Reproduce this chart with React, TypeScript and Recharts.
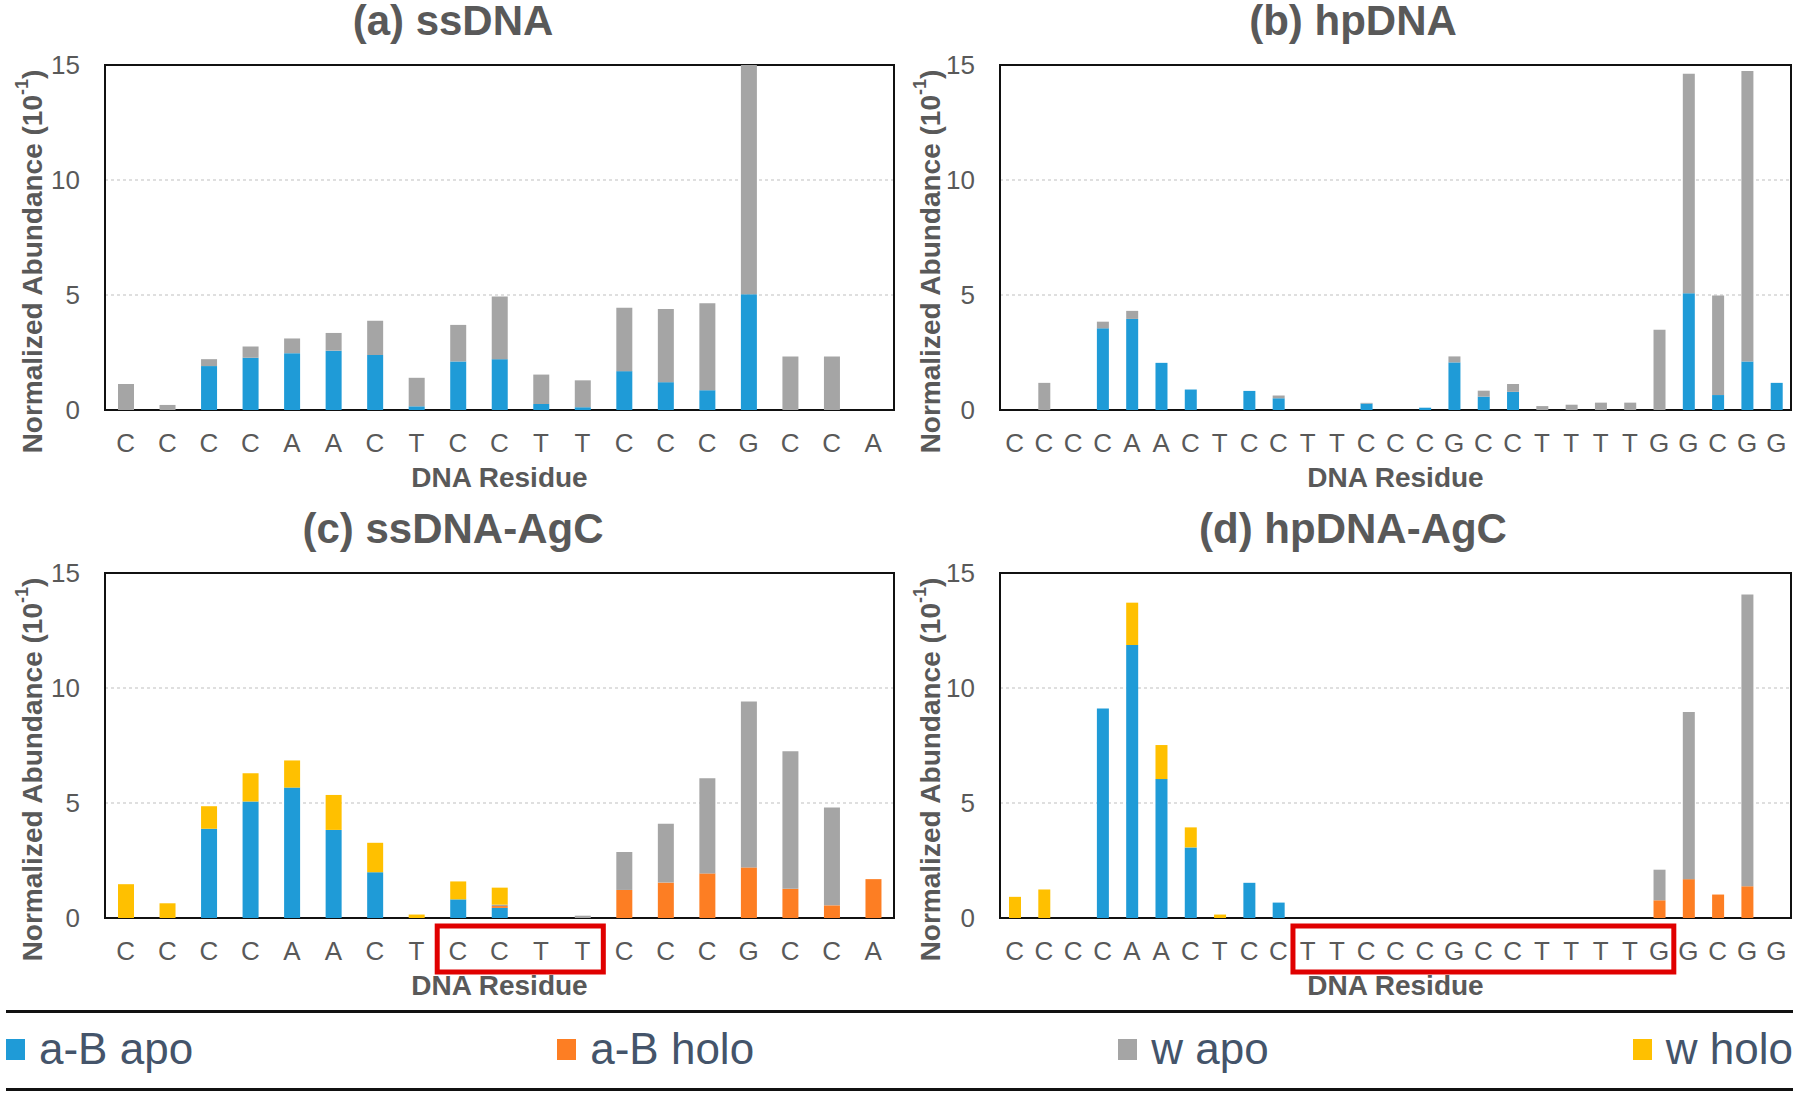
import { BarChart, Bar, XAxis, YAxis, CartesianGrid, ReferenceArea } from "recharts"

const FONT = "'Liberation Sans', Arial, sans-serif"
const TEXT = "#595959"

const ssResidues = ["C", "C", "C", "C", "A", "A", "C", "T", "C", "C", "T", "T", "C", "C", "C", "G", "C", "C", "A"]
const hpResidues = [
  "C", "C", "C", "C", "A", "A", "C", "T", "C", "C", "T", "T", "C", "C",
  "C", "G", "C", "C", "T", "T", "T", "T", "G", "G", "C", "G", "G",
]
const yTicks = [0, 5, 10, 15]

// (a) ssDNA
const ssApo_aB = [0, 0, 1.91, 2.27, 2.47, 2.58, 2.39, 0.16, 2.11, 2.21, 0.26, 0.12, 1.69, 1.21, 0.86, 5.03, 0, 0, 0]
const ssApo_w = [1.13, 0.22, 0.3, 0.49, 0.64, 0.77, 1.49, 1.24, 1.59, 2.72, 1.28, 1.17, 2.76, 3.18, 3.78, 9.97, 2.33, 2.33, 0]

// (b) hpDNA
const hpApo_aB = [0, 0, 0, 3.55, 3.96, 2.05, 0.89, 0, 0.83, 0.51, 0, 0, 0.28, 0, 0.1, 2.07, 0.58, 0.79, 0, 0, 0, 0, 0, 5.08, 0.65, 2.11, 1.18]
const hpApo_w = [0, 1.18, 0, 0.29, 0.35, 0, 0, 0, 0, 0.12, 0, 0, 0.03, 0, 0, 0.26, 0.26, 0.34, 0.17, 0.23, 0.32, 0.32, 3.49, 9.54, 4.33, 12.63, 0]

// (c) ssDNA-AgC
const ssAgc_aBApo = [0, 0, 3.88, 5.06, 5.67, 3.83, 1.99, 0, 0.81, 0.44, 0, 0, 0, 0, 0, 0, 0, 0, 0]
const ssAgc_aBHolo = [0, 0, 0, 0, 0, 0, 0, 0, 0, 0.08, 0, 0, 1.22, 1.54, 1.94, 2.2, 1.27, 0.55, 1.69]
const ssAgc_wApo = [0, 0, 0, 0, 0, 0, 0, 0, 0, 0.06, 0, 0.1, 1.65, 2.56, 4.14, 7.21, 5.98, 4.25, 0]
const ssAgc_wHolo = [1.47, 0.64, 0.98, 1.23, 1.18, 1.52, 1.28, 0.15, 0.78, 0.74, 0, 0, 0, 0, 0, 0, 0, 0, 0]

// (d) hpDNA-AgC
const hpAgc_aBApo = [0, 0, 0, 9.11, 11.87, 6.04, 3.07, 0, 1.53, 0.67, 0, 0, 0, 0, 0, 0, 0, 0, 0, 0, 0, 0, 0, 0, 0, 0, 0]
const hpAgc_aBHolo = [0, 0, 0, 0, 0, 0, 0, 0, 0, 0, 0, 0, 0, 0, 0, 0, 0, 0, 0, 0, 0, 0, 0.77, 1.69, 1.02, 1.38, 0]
const hpAgc_wApo = [0, 0, 0, 0, 0, 0, 0, 0, 0, 0, 0, 0, 0, 0, 0, 0, 0, 0, 0, 0, 0, 0, 1.33, 7.27, 0, 12.69, 0]
const hpAgc_wHolo = [0.92, 1.24, 0, 0, 1.84, 1.48, 0.87, 0.15, 0, 0, 0, 0, 0, 0, 0, 0, 0, 0, 0, 0, 0, 0, 0, 0, 0, 0, 0]

const series = [
  { key: "aBApo", name: "a-B apo", color: "#1f9bd7" },
  { key: "aBHolo", name: "a-B holo", color: "#fd7e23" },
  { key: "wApo", name: "w apo", color: "#a5a5a5" },
  { key: "wHolo", name: "w holo", color: "#ffc000" },
]

function buildRows(residues: string[], aBApo: number[], aBHolo: number[], wApo: number[], wHolo: number[]) {
  return residues.map((r, i) => ({
    id: String(i),
    residue: r,
    aBApo: aBApo[i] ?? 0,
    aBHolo: aBHolo[i] ?? 0,
    wApo: wApo[i] ?? 0,
    wHolo: wHolo[i] ?? 0,
  }))
}

const none = (n: number) => new Array(n).fill(0)

function YTitle(props: any) {
  const { viewBox, gap } = props
  const cx = viewBox.x + viewBox.width - gap
  const cy = viewBox.y + viewBox.height / 2 + 24
  return (
    <text
      x={cx}
      y={cy}
      transform={`rotate(-90 ${cx} ${cy})`}
      textAnchor="middle"
      dominantBaseline="central"
      fill={TEXT}
      fontSize={28}
      fontWeight="bold"
      fontFamily={FONT}
    >
      Normalized Abundance (10
      <tspan dy={-10} fontSize={18}>-1</tspan>
      <tspan dy={10}>)</tspan>
    </text>
  )
}

function XTitle(props: any) {
  const { viewBox } = props
  return (
    <text
      x={viewBox.x + viewBox.width / 2}
      y={viewBox.y + 67}
      textAnchor="middle"
      dominantBaseline="central"
      fill={TEXT}
      fontSize={28}
      fontWeight="bold"
      fontFamily={FONT}
    >
      DNA Residue
    </text>
  )
}

interface PanelProps {
  title: string
  residues: string[]
  rows: any[]
  left: number
  top: number
  side: "left" | "right"
  barSize: number
  box?: [number, number]
}

function Panel({ title, residues, rows, left, top, side, barSize, box }: PanelProps) {
  const margin = side === "left"
    ? { top: 65, right: 6, bottom: 30, left: 45 }
    : { top: 65, right: 9, bottom: 30, left: 40 }
  return (
    <div style={{ position: "absolute", left, top, width: 900, height: 500 }}>
      <div
        style={{
          position: "absolute",
          left: 3,
          top: 0,
          width: 900,
          textAlign: "center",
          fontFamily: FONT,
          fontWeight: "bold",
          fontSize: 42,
          lineHeight: "42px",
          color: TEXT,
        }}
      >
        {title}
      </div>
      <BarChart width={900} height={500} data={rows} margin={margin}>
        <CartesianGrid vertical={false} strokeDasharray="3 3" stroke="#bfbfbf" />
        <XAxis
          dataKey="id"
          interval={0}
          height={60}
          tickLine={false}
          axisLine={false}
          tickSize={6}
          tickMargin={18}
          tickFormatter={(v: string) => residues[Number(v)]}
          tick={{ fill: TEXT, fontSize: 26, fontFamily: FONT }}
          label={<XTitle />}
        />
        <YAxis
          width={60}
          domain={[0, 15]}
          ticks={yTicks}
          tickLine={false}
          axisLine={false}
          tickSize={6}
          tickMargin={19}
          tick={{ fill: TEXT, fontSize: 26, fontFamily: FONT }}
          label={<YTitle gap={side === "left" ? 73 : 70} />}
        />
        {series.map((s) => (
          <Bar
            key={s.key}
            dataKey={s.key}
            name={s.name}
            stackId="stack"
            fill={s.color}
            barSize={barSize}
            isAnimationActive={false}
          />
        ))}
        <ReferenceArea y1={0} y2={15} ifOverflow="visible" fill="none" stroke="#111" strokeWidth={2} />
        {box && (
          <ReferenceArea
            x1={String(box[0])}
            x2={String(box[1])}
            y1={-0.35}
            y2={-2.35}
            ifOverflow="visible"
            fill="none"
            stroke="#e00000"
            strokeWidth={5}
          />
        )}
      </BarChart>
    </div>
  )
}

function LegendBar() {
  return (
    <>
      <div style={{ position: "absolute", left: 6, top: 1010, width: 1787, height: 3, background: "#111" }} />
      <div style={{ position: "absolute", left: 6, top: 1088, width: 1787, height: 3, background: "#111" }} />
      <div
        style={{
          position: "absolute",
          left: 6,
          top: 1024,
          width: 1787,
          height: 50,
          display: "flex",
          justifyContent: "space-between",
          alignItems: "center",
          fontFamily: FONT,
          fontSize: 44,
          color: "#44546a",
        }}
      >
        {series.map((s) => (
          <div key={s.key} style={{ display: "flex", alignItems: "center" }}>
            <span style={{ display: "inline-block", width: 19, height: 21, background: s.color, marginRight: 14 }} />
            <span>{s.name}</span>
          </div>
        ))}
      </div>
    </>
  )
}

export default function App() {
  const ssN = ssResidues.length
  const hpN = hpResidues.length
  const rowsA = buildRows(ssResidues, ssApo_aB, none(ssN), ssApo_w, none(ssN))
  const rowsB = buildRows(hpResidues, hpApo_aB, none(hpN), hpApo_w, none(hpN))
  const rowsC = buildRows(ssResidues, ssAgc_aBApo, ssAgc_aBHolo, ssAgc_wApo, ssAgc_wHolo)
  const rowsD = buildRows(hpResidues, hpAgc_aBApo, hpAgc_aBHolo, hpAgc_wApo, hpAgc_wHolo)
  return (
    <div style={{ position: "absolute", left: 0, top: 0, width: 1800, height: 1098, background: "#fff" }}>
      <Panel title="(a) ssDNA" residues={ssResidues} rows={rowsA} left={0} top={0} side="left" barSize={16} />
      <Panel title="(b) hpDNA" residues={hpResidues} rows={rowsB} left={900} top={0} side="right" barSize={12} />
      <Panel title="(c) ssDNA-AgC" residues={ssResidues} rows={rowsC} left={0} top={508} side="left" barSize={16} box={[8, 11]} />
      <Panel title="(d) hpDNA-AgC" residues={hpResidues} rows={rowsD} left={900} top={508} side="right" barSize={12} box={[10, 22]} />
      <LegendBar />
    </div>
  )
}
